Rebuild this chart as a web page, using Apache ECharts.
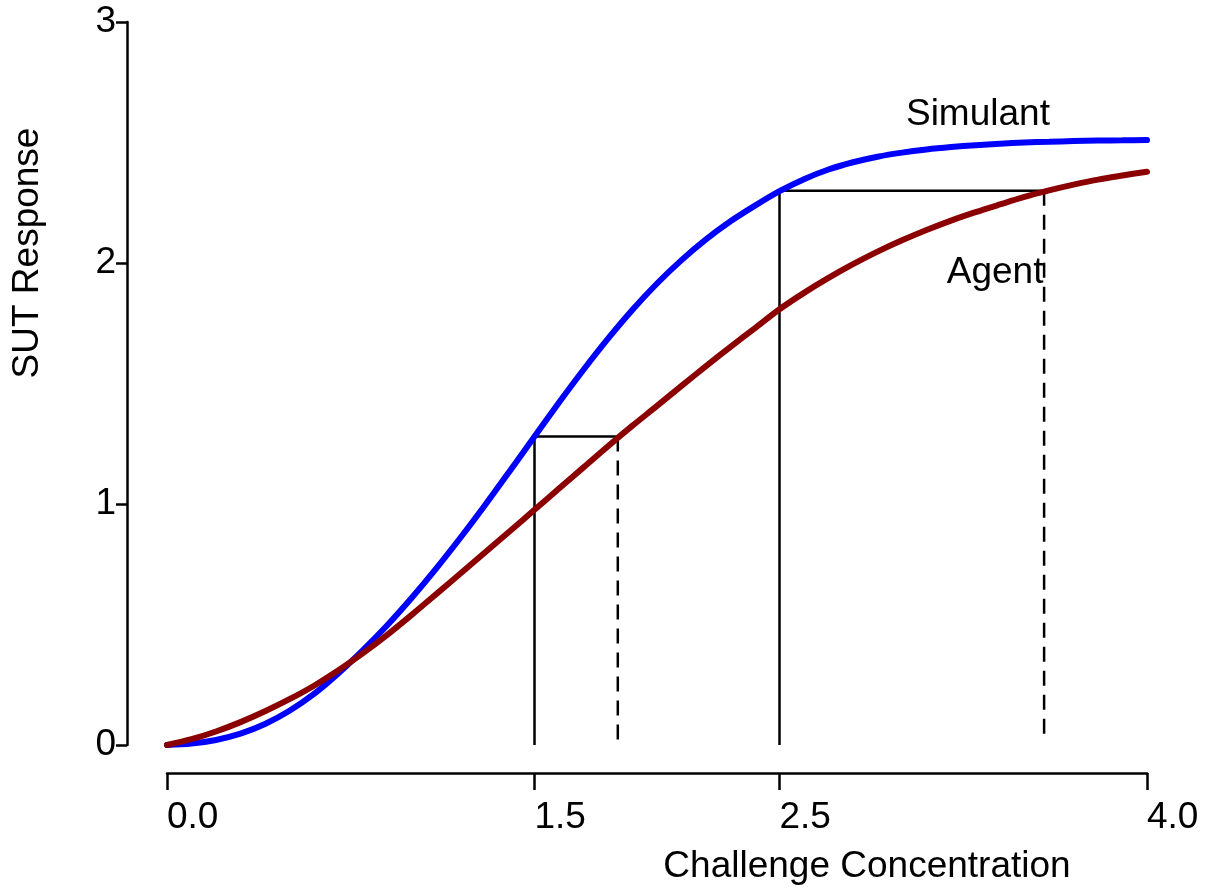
<!DOCTYPE html>
<html>
<head>
<meta charset="utf-8">
<script src="https://cdn.jsdelivr.net/npm/echarts@6/dist/echarts.min.js"></script>
<style>
html,body{margin:0;padding:0;background:#fff;}
#chart{width:1205px;height:890px;}
</style>
</head>
<body>
<div id="chart"></div>
<script>
// ---- data ----
var concentration = [0.0,0.1,0.2,0.3,0.4,0.5,0.6,0.7,0.8,0.9,1.0,1.1,1.2,1.3,1.4,1.5,1.6,1.7,1.8,1.9,2.0,
  2.1,2.2,2.3,2.4,2.5,2.6,2.7,2.8,2.9,3.0,3.1,3.2,3.3,3.4,3.5,3.6,3.7,3.8,3.9,4.0];
var simulant = [0.00,0.006,0.021,0.047,0.087,0.142,0.212,0.298,0.394,0.498,0.612,0.734,0.863,0.998,1.138,1.28,1.421,1.557,1.686,1.806,1.915,
  2.012,2.098,2.173,2.238,2.298,2.348,2.388,2.418,2.441,2.458,2.471,2.481,2.489,2.495,2.50,2.503,2.506,2.508,2.509,2.51];
var agent = [0.00,0.024,0.056,0.095,0.14,0.19,0.246,0.31,0.381,0.458,0.541,0.627,0.714,0.801,0.888,0.976,1.064,1.152,1.24,1.325,1.407,
  1.49,1.572,1.652,1.73,1.808,1.876,1.938,1.995,2.047,2.094,2.137,2.176,2.211,2.243,2.274,2.301,2.325,2.346,2.363,2.379];
var xTicks = [0.0, 1.5, 2.5, 4.0];
var yTicks = [0, 1, 2, 3];
// reference construction lines
var refSolidA = [[1.5,0],[1.5,1.28],[1.84,1.28]];
var refDashA  = [[1.84,1.28],[1.84,0]];
var refSolidB = [[2.5,0],[2.5,2.30],[3.58,2.30]];
var refDashB  = [[3.58,2.30],[3.58,0.04]];
// curve name labels anchored in data space
var curveLabels = [
  {name:'Simulant', x:3.31, y:2.615},
  {name:'Agent', x:3.38, y:1.96}
];

var font = 'Liberation Sans, Arial, sans-serif';
function pairs(xs, ys){ return xs.map(function(x,i){ return [x, ys[i]]; }); }

var chart = echarts.init(document.getElementById('chart'), null, {renderer:'canvas'});
var refStyle = {color:'#000', width:2.5};
var dashStyle = {color:'#000', width:2.5, type:[15,9]};
var option = {
  backgroundColor:'#fff',
  animation:false,
  grid:{left:167, right:58, top:22, bottom:145, containLabel:false},
  xAxis:{
    type:'value', min:0, max:4, offset:28,
    axisLine:{show:true, onZero:false, lineStyle:{color:'#000', width:2.5}},
    axisTick:{show:true, length:17, customValues:xTicks, lineStyle:{color:'#000', width:2.5}},
    axisLabel:{show:true, customValues:xTicks, margin:26, align:'left', color:'#000', fontSize:37, fontFamily:font,
      formatter:function(v){ return v.toFixed(1); }},
    splitLine:{show:false}
  },
  yAxis:{
    type:'value', min:0, max:3, interval:1, offset:40,
    axisLine:{show:true, onZero:false, lineStyle:{color:'#000', width:2.5}},
    axisTick:{show:true, length:11, customValues:yTicks, lineStyle:{color:'#000', width:2.5}},
    axisLabel:{show:true, customValues:yTicks, margin:11, color:'#000', fontSize:37, fontFamily:font},
    splitLine:{show:false}
  },
  graphic:[
    {type:'text', x:867, y:867, style:{text:'Challenge Concentration', fill:'#000', font:'37px '+font, textAlign:'center', textVerticalAlign:'middle'}},
    {type:'text', x:28, y:253, rotation:Math.PI/2, style:{text:'SUT Response', fill:'#000', font:'37px '+font, textAlign:'center', textVerticalAlign:'middle'}}
  ],
  series:[
    {type:'line', data:pairs(concentration, simulant), smooth:0.3, showSymbol:false, symbol:'none',
      lineStyle:{color:'#0000FF', width:6, cap:'round'}, z:5},
    {type:'line', data:pairs(concentration, agent), smooth:0.3, showSymbol:false, symbol:'none',
      lineStyle:{color:'#8B0000', width:6, cap:'round'}, z:6},
    {type:'line', data:refSolidA, showSymbol:false, symbol:'none', lineStyle:refStyle, z:3},
    {type:'line', data:refDashA, showSymbol:false, symbol:'none', lineStyle:dashStyle, z:3},
    {type:'line', data:refSolidB, showSymbol:false, symbol:'none', lineStyle:refStyle, z:3},
    {type:'line', data:refDashB, showSymbol:false, symbol:'none', lineStyle:dashStyle, z:3},
    {type:'scatter', symbolSize:0, itemStyle:{opacity:1, color:'rgba(0,0,0,0)'},
      data:curveLabels.map(function(d){ return {value:[d.x,d.y], name:d.name}; }),
      label:{show:true, position:'inside', formatter:'{b}', color:'#000', opacity:1, fontSize:37, fontFamily:font}, z:10}
  ]
};
chart.setOption(option);
</script>
</body>
</html>
